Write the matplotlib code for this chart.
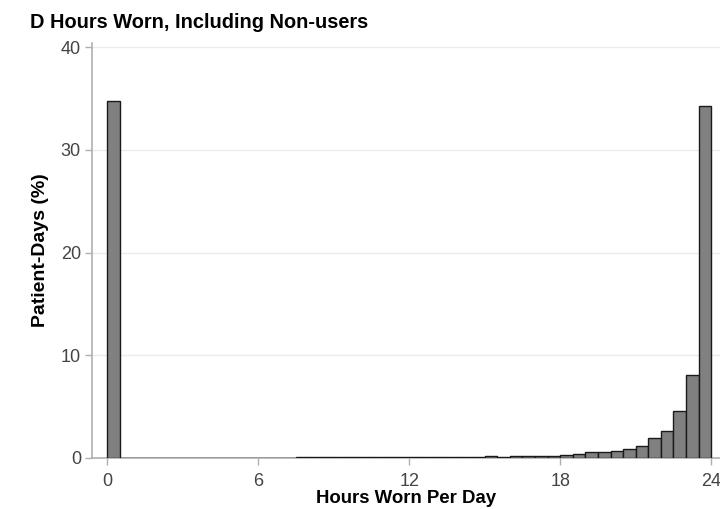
import numpy as np
import matplotlib
matplotlib.use("Agg")
import matplotlib.pyplot as plt

plt.rcParams['font.family'] = ['Liberation Sans', 'DejaVu Sans']

# histogram: share of patient-days per half-hour bin of hours worn
bin_width = 0.5
bin_start = np.arange(0, 24, bin_width)
pct = [34.8, 0.02, 0.02, 0.02, 0.02, 0.02, 0.02, 0.02,
       0.02, 0.02, 0.02, 0.02, 0.02, 0.02, 0.03, 0.05,
       0.05, 0.05, 0.06, 0.07, 0.08, 0.08, 0.09, 0.08,
       0.10, 0.10, 0.10, 0.11, 0.12, 0.14, 0.16, 0.14,
       0.15, 0.17, 0.16, 0.18, 0.29, 0.39, 0.55, 0.61,
       0.70, 0.88, 1.20, 1.93, 2.66, 4.60, 8.10, 34.3]

xticks = [0, 6, 12, 18, 24]
yticks = [0, 10, 20, 30, 40]

fig = plt.figure(figsize=(7.2, 5.09), dpi=100)
ax = fig.add_axes([0.1278, 0.1002, 0.8722, 0.815])

ax.bar(bin_start, pct, width=bin_width, align='edge', color='#808080',
       edgecolor='#1a1a1a', linewidth=1.0, zorder=3)

ax.set_xlim(-0.6, 24.35)
ax.set_ylim(0, 40.4)
ax.set_xticks(xticks)
ax.set_yticks(yticks)
ax.grid(axis='y', color='#ebebeb', linewidth=1.0, zorder=0)

for side in ['top', 'right']:
    ax.spines[side].set_visible(False)
for side in ['left', 'bottom']:
    ax.spines[side].set_color('#b0b0b0')
    ax.spines[side].set_linewidth(1.2)

ax.tick_params(axis='both', colors='#b0b0b0', labelcolor='#444444',
               labelsize=13, length=5, width=1)
ax.tick_params(axis='x', pad=6)
ax.tick_params(axis='y', pad=3)

ax.set_xlabel('Hours Worn Per Day', fontsize=13.4, fontweight='bold')
ax.set_ylabel('Patient-Days (%)', fontsize=14, fontweight='bold')
ax.xaxis.set_label_coords(0.5, -0.078)
ax.yaxis.set_label_coords(-0.068, 0.5)
fig.text(30 / 720, 1 - 28 / 509, 'D Hours Worn, Including Non-users',
         fontsize=14.4, fontweight='bold', ha='left', va='baseline')

fig.savefig('out.png', dpi=100)
